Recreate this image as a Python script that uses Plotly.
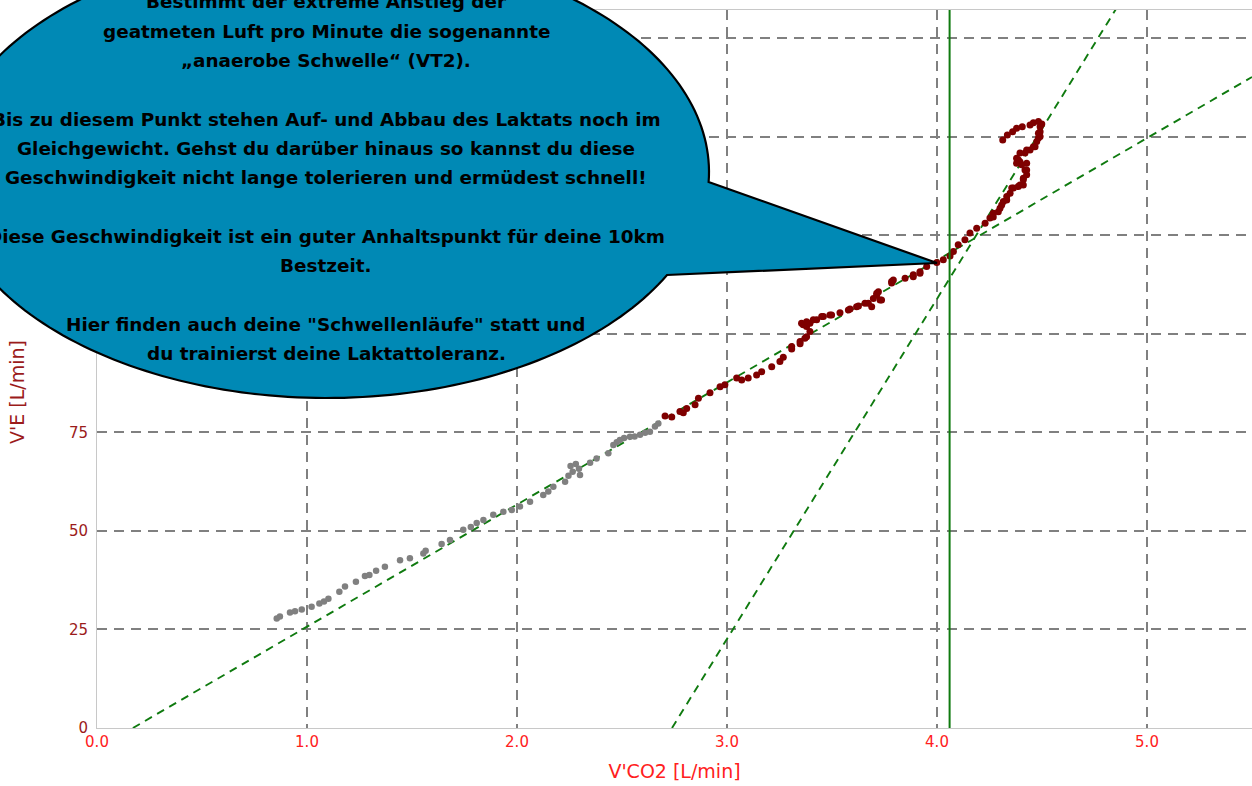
import numpy as np
import plotly.graph_objects as go

# Warm-up phase (grey): V'CO2 [L/min] and V'E [L/min]
warmup_vco2 = [0.856, 0.871, 0.919, 0.943, 0.975, 1.022, 1.059, 1.081, 1.102, 1.154,
               1.181, 1.233, 1.276, 1.297, 1.329, 1.371, 1.443, 1.490, 1.554, 1.565,
               1.641, 1.681, 1.744, 1.780, 1.808, 1.840, 1.887, 1.935, 1.975, 2.014,
               2.062, 2.125, 2.149, 2.173, 2.229, 2.245, 2.255, 2.265, 2.280, 2.295,
               2.300, 2.348, 2.379, 2.435, 2.459, 2.475, 2.490, 2.510, 2.538, 2.560,
               2.586, 2.610, 2.633, 2.657, 2.673]
warmup_ve = [27.8, 28.3, 29.3, 29.6, 30.1, 30.8, 31.6, 32.1, 32.8, 34.6,
             35.9, 37.1, 38.6, 38.8, 39.9, 40.9, 42.6, 43.1, 44.3, 45.0,
             46.7, 47.7, 50.3, 51.0, 52.0, 52.8, 54.1, 54.9, 55.3, 56.2,
             57.4, 59.1, 60.0, 61.2, 62.5, 64.0, 66.5, 65.0, 67.0, 65.8,
             64.2, 67.3, 68.4, 69.7, 71.8, 72.5, 73.1, 73.6, 73.9, 74.0,
             74.4, 74.9, 75.2, 76.5, 77.3]

# Load phase (dark red)
load_vco2 = [2.705, 2.737, 2.776, 2.792, 2.808, 2.848, 2.864, 2.919, 2.967, 2.990,
             3.046, 3.070, 3.101, 3.141, 3.165, 3.213, 3.252, 3.268, 3.308, 3.308,
             3.348, 3.348, 3.371, 3.379, 3.395, 3.379, 3.363, 3.355, 3.379, 3.395,
             3.411, 3.427, 3.451, 3.459, 3.490, 3.498, 3.538, 3.578, 3.586, 3.617,
             3.626, 3.657, 3.673, 3.689, 3.697, 3.713, 3.721, 3.729, 3.736, 3.713,
             3.784, 3.784, 3.792, 3.848, 3.887, 3.887, 3.919, 3.919, 3.951, 3.999,
             4.030, 4.062, 4.078, 4.101, 4.133, 4.157, 4.189, 4.229, 4.252, 4.268,
             4.268, 4.292, 4.300, 4.308, 4.316, 4.332, 4.332, 4.348, 4.356, 4.364,
             4.387, 4.395, 4.411, 4.411, 4.411, 4.427, 4.427, 4.419, 4.403, 4.427,
             4.379, 4.395, 4.387, 4.379, 4.419, 4.395, 4.443, 4.427, 4.467, 4.459,
             4.475, 4.483, 4.491, 4.483, 4.491, 4.491, 4.483, 4.499, 4.459, 4.443,
             4.406, 4.379, 4.360, 4.335, 4.313]
load_ve = [79.2, 78.9, 80.3, 80.0, 81.1, 82.0, 83.7, 85.1, 86.6, 87.1,
           88.8, 88.3, 88.8, 89.6, 90.4, 91.7, 93.0, 94.1, 96.2, 96.8,
           97.5, 98.1, 98.9, 99.3, 100.6, 101.9, 102.3, 102.7, 103.1, 102.7,
           103.6, 103.6, 104.4, 104.4, 104.8, 104.8, 105.4, 106.1, 106.3, 106.9,
           107.1, 107.8, 107.8, 106.9, 109.0, 109.9, 110.7, 108.6, 108.6, 110.3,
           112.9, 113.3, 113.7, 114.1, 114.5, 115.0, 115.4, 115.8, 117.1, 118.1,
           118.8, 119.8, 120.9, 122.6, 123.9, 125.6, 126.8, 128.1, 129.4, 129.7,
           130.6, 131.0, 131.9, 132.7, 133.6, 134.0, 134.9, 135.7, 137.0, 137.0,
           137.4, 137.8, 137.8, 139.1, 139.5, 140.4, 141.6, 141.6, 142.9, 143.3,
           143.3, 143.7, 144.2, 144.6, 145.9, 145.9, 146.7, 146.7, 147.5, 147.5,
           148.8, 149.7, 150.1, 150.9, 151.3, 152.6, 153.9, 153.3, 153.6, 153.0,
           152.6, 152.2, 151.3, 150.5, 149.2]

# Fitted lines V'E = slope * V'CO2 + intercept
lower_slope, lower_intercept = 31.0, -5.3
upper_slope, upper_intercept = 86.3, -236.3
vt2_vco2 = 4.06          # ventilatory threshold VT2
tip_vco2, tip_ve = 4.0, 118.0   # point the speech bubble refers to

x_ticks = [0, 1, 2, 3, 4, 5]
x_tick_labels = ["0.0", "1.0", "2.0", "3.0", "4.0", "5.0"]
y_ticks = [0, 25, 50, 75, 100, 125, 150, 175]
# labels above 75 sit underneath the speech bubble
y_tick_labels = ["0", "25", "50", "75", "", "", "", ""]

callout_lines = [
    "Bestimmt der extreme Anstieg der",
    "geatmeten Luft pro Minute die sogenannte",
    "„anaerobe Schwelle“ (VT2).",
    "",
    "Bis zu diesem Punkt stehen Auf- und Abbau des Laktats noch im",
    "Gleichgewicht. Gehst du darüber hinaus so kannst du diese",
    "Geschwindigkeit nicht lange tolerieren und ermüdest schnell!",
    "",
    "Diese Geschwindigkeit ist ein guter Anhaltspunkt für deine 10km",
    "Bestzeit.",
    "",
    "Hier finden auch deine \"Schwellenläufe\" statt und",
    "du trainierst deine Laktattoleranz.",
]

# Figure geometry
W, H = 1252, 786
ML, MR, MT, MB = 97, 0, 10, 58
X_RANGE = [0, 5.5]
Y_RANGE = [0, 182.2]
PW, PH = W - ML - MR, H - MT - MB


def px_to_paper(px, py):
    return (px - ML) / PW, (H - MB - py) / PH


def data_to_px(x, y):
    px = ML + (x - X_RANGE[0]) / (X_RANGE[1] - X_RANGE[0]) * PW
    py = H - MB - (y - Y_RANGE[0]) / (Y_RANGE[1] - Y_RANGE[0]) * PH
    return px, py


fig = go.Figure()

grey = "#808080"
green = "#0f7a0f"

# fitted lines
for slope, icpt in [(lower_slope, lower_intercept), (upper_slope, upper_intercept)]:
    x0 = -icpt / slope
    xs = np.array([x0, X_RANGE[1]])
    fig.add_trace(go.Scatter(x=xs, y=slope * xs + icpt, mode="lines",
                             line=dict(color=green, width=1.9, dash="8px,6px"),
                             hoverinfo="skip", showlegend=False))

fig.add_trace(go.Scatter(x=warmup_vco2, y=warmup_ve, mode="markers",
                         marker=dict(color=grey, size=6.5), showlegend=False))
fig.add_trace(go.Scatter(x=load_vco2, y=load_ve, mode="markers",
                         marker=dict(color="#7f0000", size=7), showlegend=False))

# VT2 marker line
fig.add_shape(type="line", xref="x", yref="paper", x0=vt2_vco2, x1=vt2_vco2,
              y0=0, y1=1, line=dict(color=green, width=2), layer="above")

# speech bubble: ellipse with pointer (pixel geometry)
cx, cy, ra, rb = 327, 172, 382, 226
t_top = np.arcsin(-(182 - cy) / rb)     # upper joint of the pointer
t_bot = np.arcsin(-(275 - cy) / rb)     # lower joint of the pointer
ts = np.linspace(t_top, 2 * np.pi + t_bot, 240)
pts = [(cx + ra * np.cos(t), cy - rb * np.sin(t)) for t in ts]
pts.append(data_to_px(tip_vco2, tip_ve))
path = "M " + " L ".join("{:.5f},{:.5f}".format(*px_to_paper(px, py)) for px, py in pts) + " Z"
fig.add_shape(type="path", xref="paper", yref="paper", path=path,
              fillcolor="#0089b5", line=dict(color="black", width=2.2), layer="above")

font_bubble = dict(family="Comic Sans MS, DejaVu Sans", size=18.4, color="black", weight="bold")
for i, line in enumerate(callout_lines):
    if not line:
        continue
    px, py = px_to_paper(326, 2 + 29.3 * i)
    fig.add_annotation(x=px, y=py, xref="paper", yref="paper", text=line,
                       showarrow=False, xanchor="center", yanchor="middle",
                       font=font_bubble)

# y-axis title
tx, ty = px_to_paper(17, 392)
fig.add_annotation(x=tx, y=ty, xref="paper", yref="paper", text="V'E [L/min]",
                   textangle=-90, showarrow=False, xanchor="center", yanchor="middle",
                   font=dict(family="DejaVu Sans", size=19, color="#9b1b1b"))

grid_style = dict(showgrid=True, gridcolor=grey, gridwidth=2, griddash="10px,7px",
                  zeroline=False, showline=True, linecolor="#c8c8c8", linewidth=1,
                  ticks="")

fig.update_xaxes(range=X_RANGE, tickvals=x_ticks, ticktext=x_tick_labels,
                 tickfont=dict(family="DejaVu Sans", size=15, color="#ff2020"),
                 title=dict(text="V'CO2 [L/min]", standoff=14,
                            font=dict(family="DejaVu Sans", size=19, color="#ff2020")),
                 mirror=True, **grid_style)
fig.update_yaxes(range=Y_RANGE, tickvals=y_ticks, ticktext=y_tick_labels,
                 tickfont=dict(family="DejaVu Sans", size=15, color="#9b1b1b"),
                 ticklabelstandoff=5, mirror=False, **grid_style)

fig.update_layout(width=W, height=H, margin=dict(l=ML, r=MR, t=MT, b=MB),
                  plot_bgcolor="white", paper_bgcolor="white", showlegend=False,
                  hovermode="closest")

fig.write_html("out.html")
